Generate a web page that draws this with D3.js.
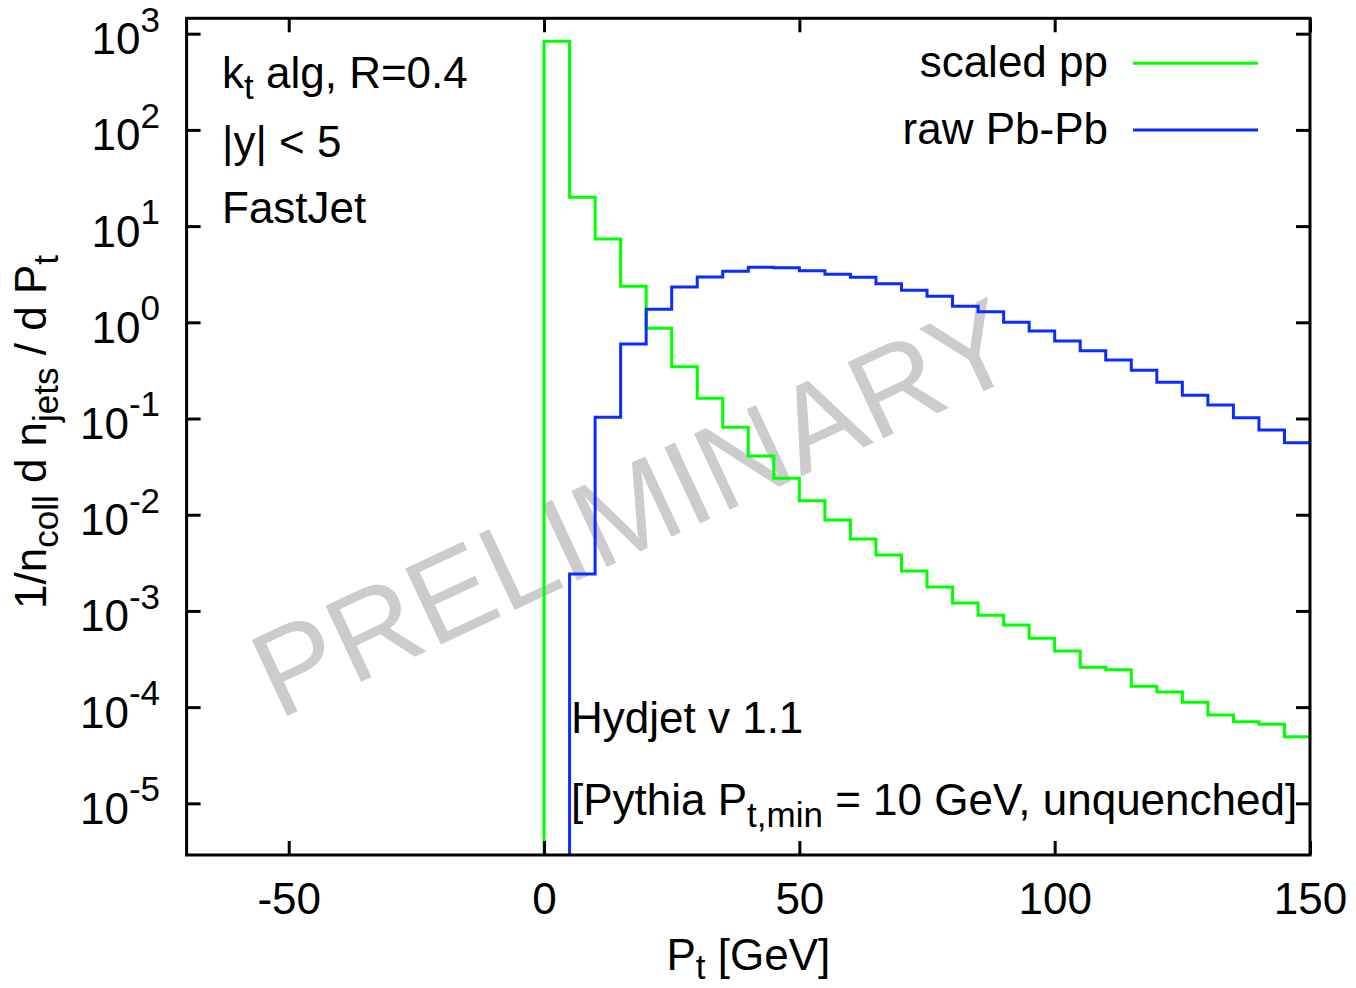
<!DOCTYPE html>
<html>
<head>
<meta charset="utf-8">
<script src="https://cdn.jsdelivr.net/npm/d3@7"></script>
<style>
  html, body { margin: 0; padding: 0; background: #fff; }
  svg { display: block; font-family: "Liberation Sans", Arial, Helvetica, sans-serif; }
</style>
</head>
<body>
<svg id="chart" width="1356" height="988"></svg>
<script>
// Jet transverse-momentum spectra, 5 GeV bins from 0 to 150 GeV
const binLow = [0, 5, 10, 15, 20, 25, 30, 35, 40, 45, 50, 55, 60, 65, 70,
                75, 80, 85, 90, 95, 100, 105, 110, 115, 120, 125, 130, 135, 140, 145];
const binHigh = 150;

// scaled pp reference
const ppValues = [834, 19.9, 7.34, 2.37, 0.866, 0.345, 0.162, 0.081, 0.0408, 0.0239,
                  0.01398, 0.00881, 0.00559, 0.00381, 0.0026, 0.00177, 0.00121, 0.0009, 0.000714, 0.000519,
                  0.000383, 0.000259, 0.000245, 0.0001645, 0.0001435, 0.0001122, 0.0000828, 0.0000705, 0.0000663, 0.0000492];

// raw Pb-Pb (first bin empty)
const pbpbValues = [null, 0.00242, 0.1029, 0.595, 1.365, 2.328, 2.958, 3.39, 3.73, 3.69,
                    3.44, 3.155, 2.936, 2.52, 2.15, 1.864, 1.467, 1.289, 1.0, 0.812,
                    0.639, 0.507, 0.4056, 0.317, 0.2378, 0.1743, 0.1381, 0.1019, 0.0759, 0.056];

const seriesNames = ["scaled pp", "raw Pb-Pb"];
const seriesColors = ["#00ff00", "#0a2cff"];

const xTicks = [-50, 0, 50, 100, 150];
const xDomain = [-70, 150];
const yTickExponents = [3, 2, 1, 0, -1, -2, -3, -4, -5];
const yDomainExp = [-5.537, 3.160];

// layout
const plot = { left: 186.6, right: 1310, top: 18.3, bottom: 855 };
const FS = 44, FS_SMALL = 35;

const svg = d3.select("#chart");

const x = d3.scaleLinear().domain(xDomain).range([plot.left, plot.right]);
const y = d3.scaleLog()
  .domain([Math.pow(10, yDomainExp[0]), Math.pow(10, yDomainExp[1])])
  .range([plot.bottom, plot.top]);
const yFloor = y.domain()[0];

svg.append("defs").append("clipPath").attr("id", "plotClip")
  .append("rect")
  .attr("x", plot.left).attr("y", plot.top)
  .attr("width", plot.right - plot.left).attr("height", plot.bottom - plot.top);

// watermark
svg.append("text")
  .attr("transform", "translate(652,546) rotate(-25)")
  .attr("text-anchor", "middle")
  .attr("font-size", 122)
  .attr("fill", "#cccccc")
  .text("PRELIMINARY");

// histogram step lines
function stepPoints(values) {
  const pts = [];
  let first = values.findIndex(v => v != null && v > 0);
  pts.push({ x: binLow[first], v: yFloor });
  for (let i = first; i < values.length; i++) {
    pts.push({ x: binLow[i], v: values[i] });
  }
  pts.push({ x: binHigh, v: values[values.length - 1] });
  return pts;
}

const stepLine = d3.line()
  .x(d => x(d.x))
  .y(d => y(Math.max(d.v, yFloor)))
  .curve(d3.curveStepAfter);

const lines = svg.append("g").attr("clip-path", "url(#plotClip)");
[ppValues, pbpbValues].forEach((vals, i) => {
  lines.append("path")
    .datum(stepPoints(vals))
    .attr("d", stepLine)
    .attr("fill", "none")
    .attr("stroke", seriesColors[i])
    .attr("stroke-width", 3)
    .attr("stroke-linejoin", "miter")
    .attr("stroke-linecap", "square");
});

// axes: inward ticks on all four sides
const yTickValues = yTickExponents.map(e => Math.pow(10, e));

function styleAxis(g) {
  g.select(".domain").remove();
  g.selectAll(".tick line").attr("stroke", "#000").attr("stroke-width", 3);
  g.attr("font-family", null).attr("font-size", null);
}

svg.append("g")
  .attr("transform", `translate(0,${plot.bottom})`)
  .call(d3.axisBottom(x).tickValues(xTicks).tickSizeInner(-14).tickSizeOuter(0)
        .tickPadding(28).tickFormat(d => String(d)))
  .call(styleAxis)
  .call(g => g.selectAll("text").attr("font-size", FS).attr("fill", "#000"));

svg.append("g")
  .attr("transform", `translate(0,${plot.top})`)
  .call(d3.axisTop(x).tickValues(xTicks).tickSizeInner(-14).tickSizeOuter(0).tickFormat(""))
  .call(styleAxis);

svg.append("g")
  .attr("transform", `translate(${plot.left},0)`)
  .call(d3.axisLeft(y).tickValues(yTickValues).tickSizeInner(-14).tickSizeOuter(0).tickFormat(""))
  .call(styleAxis);

svg.append("g")
  .attr("transform", `translate(${plot.right},0)`)
  .call(d3.axisRight(y).tickValues(yTickValues).tickSizeInner(-14).tickSizeOuter(0).tickFormat(""))
  .call(styleAxis);

// y tick labels as powers of ten
const yLabels = svg.append("g").attr("fill", "#000");
yTickExponents.forEach(e => {
  const t = yLabels.append("text")
    .attr("x", 160)
    .attr("y", y(Math.pow(10, e)) + 20.5)
    .attr("text-anchor", "end");
  t.append("tspan").attr("font-size", FS).text("10");
  t.append("tspan").attr("font-size", FS_SMALL).attr("dy", -22.7).text(String(e));
});

// frame
svg.append("rect")
  .attr("x", plot.left).attr("y", plot.top)
  .attr("width", plot.right - plot.left).attr("height", plot.bottom - plot.top)
  .attr("fill", "none").attr("stroke", "#000").attr("stroke-width", 3);

// helper for text with subscripts: parts = [[text, isSub], ...]
function richText(sel, parts, subShift) {
  let shifted = false;
  parts.forEach(([txt, sub]) => {
    const ts = sel.append("tspan").attr("font-size", sub ? FS_SMALL : FS).text(txt);
    if (sub && !shifted) { ts.attr("dy", subShift); shifted = true; }
    else if (!sub && shifted) { ts.attr("dy", -subShift); shifted = false; }
  });
  return sel;
}

// axis titles
svg.append("text")
  .attr("x", (plot.left + plot.right) / 2).attr("y", 970)
  .attr("text-anchor", "middle")
  .call(s => richText(s, [["P", false], ["t", true], [" [GeV]", false]], 9));

svg.append("text")
  .attr("transform", "translate(46,432) rotate(-90)")
  .attr("text-anchor", "middle")
  .call(s => richText(s, [["1/n", false], ["coll", true], [" d n", false], ["jets", true],
                          [" / d P", false], ["t", true]], 12));

// annotations
svg.append("text").attr("x", 222).attr("y", 88.3)
  .call(s => richText(s, [["k", false], ["t", true], [" alg, R=0.4", false]], 11));
svg.append("text").attr("x", 222).attr("y", 156.7).attr("font-size", FS).text("|y| < 5");
svg.append("text").attr("x", 222).attr("y", 223.3).attr("font-size", FS).text("FastJet");

svg.append("text").attr("x", 571).attr("y", 732.7).attr("font-size", FS).text("Hydjet v 1.1");
svg.append("text").attr("x", 571).attr("y", 815)
  .call(s => richText(s, [["[Pythia P", false], ["t,min", true], [" = 10 GeV, unquenched]", false]], 11.7));

// legend
const legendRows = [76.7, 144];
const legendLineY = [63.3, 130];
seriesNames.forEach((name, i) => {
  svg.append("text")
    .attr("x", 1108).attr("y", legendRows[i])
    .attr("text-anchor", "end").attr("font-size", FS)
    .text(name);
  svg.append("line")
    .attr("x1", 1133).attr("x2", 1258)
    .attr("y1", legendLineY[i]).attr("y2", legendLineY[i])
    .attr("stroke", seriesColors[i]).attr("stroke-width", 3);
});
</script>
</body>
</html>
